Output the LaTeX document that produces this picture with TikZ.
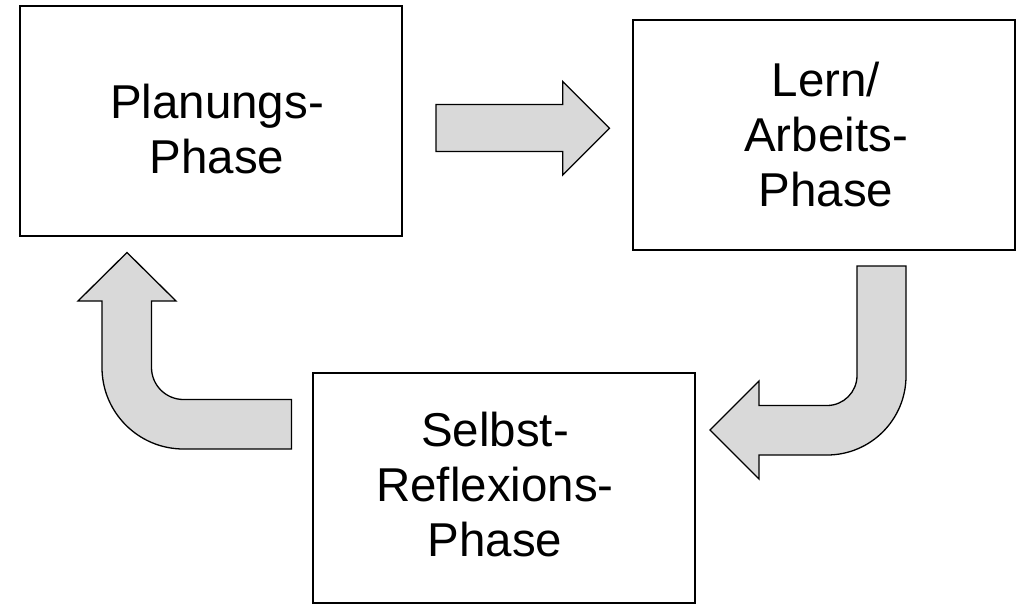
\documentclass[tikz,border=0pt]{standalone}
\usepackage{fontspec}
\setmainfont{Liberation Sans}
\definecolor{arrowfill}{HTML}{D9D9D9}
\begin{document}
\begin{tikzpicture}[x=1pt,y=-1pt,
  phasebox/.style={draw=black, line width=1.8pt, minimum width=382pt, minimum height=230pt, inner sep=0pt},
  phasetext/.style={align=center, inner sep=0pt, font=\fontsize{47.5}{55}\selectfont},
  blockarrow/.style={draw=black, line width=1.3pt, fill=arrowfill, line join=miter}]
\useasboundingbox (0,0) rectangle (1025,604);
% boxes
\node[phasebox] (plan) at (211.25,121.25) {};
\node[phasebox] (lern) at (824,135) {};
\node[phasebox] (refl) at (503.6,488.3) {};
% texts
\node[phasetext] (plant) at (217,129) {Planungs-\\Phase};
\node[phasetext] (lernt) at (826,135) {Lern/\\Arbeits-\\Phase};
\node[phasetext] (reflt) at (495,485) {Selbst-\\Reflexions-\\Phase};
% arrow plan -> lern
\draw[blockarrow] (436,104.5) -- (562.7,104.5) -- (562.7,81.5) -- (609.5,128.3) -- (562.7,175) -- (562.7,151.5) -- (436,151.5) -- cycle;
% arrow lern -> refl
\draw[blockarrow] (857,266) -- (906,266) -- (906,376)
  arc[start angle=0, end angle=90, radius=79] -- (759,455) -- (759,479) -- (710,430) -- (759,381) -- (759,405.5) -- (827,405.5)
  arc[start angle=90, end angle=0, radius=30] -- cycle;
% arrow refl -> plan
\draw[blockarrow] (291.5,399.5) -- (183.5,399.5)
  arc[start angle=90, end angle=180, radius=32] -- (151.5,301) -- (176,301) -- (127,252.5) -- (78,301) -- (102,301) -- (102,367.5)
  arc[start angle=180, end angle=90, radius=81.5] -- (291.5,449) -- cycle;
\end{tikzpicture}
\end{document}
